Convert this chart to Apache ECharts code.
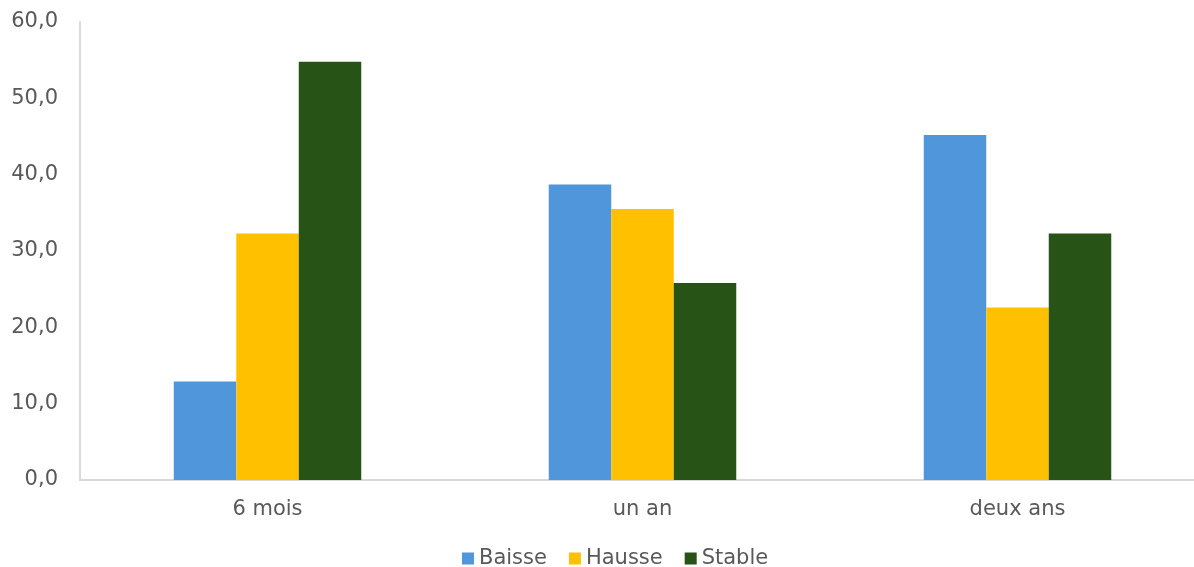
<!DOCTYPE html>
<html>
<head>
<meta charset="utf-8">
<script src="https://cdn.jsdelivr.net/npm/echarts@6/dist/echarts.min.js"></script>
<style>
    html, body { margin: 0; padding: 0; background: #fff; overflow: hidden; }
    #chart { width: 1210px; height: 567px; }
</style>
</head>
<body>
<div id="chart"></div>
<script>
    const categories = ['6 mois', 'un an', 'deux ans'];
    const baisse = [12.9, 38.7, 45.2];
    const hausse = [32.3, 35.5, 22.6];
    const stable = [54.8, 25.8, 32.3];

    let chart = echarts.init(document.getElementById('chart'));

    const font = "'DejaVu Sans', Verdana, sans-serif";

    function bar(name, data, color) {
        return {
            name: name,
            type: 'bar',
            data: data,
            barGap: '0%',
            barCategoryGap: '50%',
            itemStyle: { color: color },
            animation: false
        };
    }

    let option = {
        backgroundColor: '#ffffff',
        textStyle: { fontFamily: font },
        legend: {
            top: 548,
            left: 462,
            padding: 0,
            itemWidth: 12,
            itemHeight: 12,
            itemGap: 22,
            icon: 'rect',
            textStyle: { color: '#595959', fontSize: 21, fontFamily: font },
            data: ['Baisse', 'Hausse', 'Stable']
        },
        grid: {
            left: 80,
            top: 22,
            width: 1125,
            height: 458
        },
        xAxis: {
            type: 'category',
            data: categories,
            axisLine: { lineStyle: { color: '#d9d9d9', width: 2 } },
            axisTick: { show: false },
            axisLabel: { color: '#595959', fontSize: 21, margin: 19, fontFamily: font }
        },
        yAxis: {
            type: 'value',
            min: 0,
            max: 60,
            interval: 10,
            axisLine: { show: true, lineStyle: { color: '#d9d9d9', width: 2 } },
            axisTick: { show: false },
            splitLine: { show: false },
            axisLabel: {
                color: '#595959',
                fontSize: 21,
                margin: 22,
                fontFamily: font,
                formatter: function (v) { return v.toFixed(1).replace('.', ','); }
            }
        },
        series: [
            bar('Baisse', baisse, '#5096da'),
            bar('Hausse', hausse, '#ffc000'),
            bar('Stable', stable, '#275317')
        ]
    };

    chart.setOption(option);
</script>
</body>
</html>
